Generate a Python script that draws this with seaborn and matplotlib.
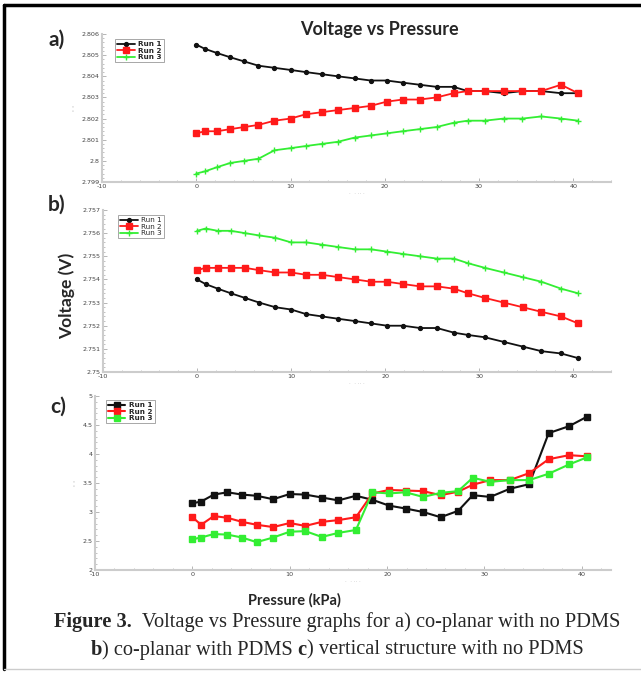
import matplotlib
matplotlib.use("Agg")
import matplotlib.pyplot as plt
import seaborn as sns
from matplotlib.ticker import MultipleLocator, FuncFormatter
from matplotlib.lines import Line2D

# Pressure (kPa) readings, same for every run
pressure = [0, 0.9, 2.2, 3.6, 5.1, 6.6, 8.3, 10.0, 11.6, 13.3, 15.0, 16.8, 18.5,
            20.2, 21.9, 23.7, 25.5, 27.3, 28.8, 30.6, 32.6, 34.6, 36.6, 38.7, 40.5]
run_names = ["Run 1", "Run 2", "Run 3"]

# a) co-planar, no PDMS
a_run1 = [2.8055, 2.8053, 2.8051, 2.8049, 2.8047, 2.8045, 2.8044, 2.8043, 2.8042, 2.8041,
          2.8040, 2.8039, 2.8038, 2.8038, 2.8037, 2.8036, 2.8035, 2.8035, 2.8033, 2.8033,
          2.8032, 2.8033, 2.8033, 2.8032, 2.8032]
a_run2 = [2.8013, 2.8014, 2.8014, 2.8015, 2.8016, 2.8017, 2.8019, 2.8020, 2.8022, 2.8023,
          2.8024, 2.8025, 2.8026, 2.8028, 2.8029, 2.8029, 2.8030, 2.8032, 2.8033, 2.8033,
          2.8033, 2.8033, 2.8033, 2.8036, 2.8032]
a_run3 = [2.7994, 2.7995, 2.7997, 2.7999, 2.8000, 2.8001, 2.8005, 2.8006, 2.8007, 2.8008,
          2.8009, 2.8011, 2.8012, 2.8013, 2.8014, 2.8015, 2.8016, 2.8018, 2.8019, 2.8019,
          2.8020, 2.8020, 2.8021, 2.8020, 2.8019]

# b) co-planar with PDMS
b_run1 = [2.7540, 2.7538, 2.7536, 2.7534, 2.7532, 2.7530, 2.7528, 2.7527, 2.7525, 2.7524,
          2.7523, 2.7522, 2.7521, 2.7520, 2.7520, 2.7519, 2.7519, 2.7517, 2.7516, 2.7515,
          2.7513, 2.7511, 2.7509, 2.7508, 2.7506]
b_run2 = [2.7544, 2.7545, 2.7545, 2.7545, 2.7545, 2.7544, 2.7543, 2.7543, 2.7542, 2.7542,
          2.7541, 2.7540, 2.7539, 2.7539, 2.7538, 2.7537, 2.7537, 2.7536, 2.7534, 2.7532,
          2.7530, 2.7528, 2.7526, 2.7524, 2.7521]
b_run3 = [2.7561, 2.7562, 2.7561, 2.7561, 2.7560, 2.7559, 2.7558, 2.7556, 2.7556, 2.7555,
          2.7554, 2.7553, 2.7553, 2.7552, 2.7551, 2.7550, 2.7549, 2.7549, 2.7547, 2.7545,
          2.7543, 2.7541, 2.7539, 2.7536, 2.7534]

# c) vertical structure, no PDMS
c_run1 = [3.15, 3.18, 3.30, 3.34, 3.30, 3.28, 3.22, 3.31, 3.30, 3.25, 3.20, 3.28, 3.21,
          3.11, 3.06, 3.00, 2.91, 3.02, 3.29, 3.26, 3.40, 3.48, 4.36, 4.48, 4.64]
c_run2 = [2.91, 2.78, 2.93, 2.90, 2.83, 2.78, 2.74, 2.81, 2.76, 2.83, 2.86, 2.91, 3.32,
          3.38, 3.37, 3.36, 3.29, 3.35, 3.47, 3.55, 3.55, 3.67, 3.91, 3.98, 3.96]
c_run3 = [2.53, 2.56, 2.62, 2.61, 2.56, 2.48, 2.56, 2.66, 2.67, 2.57, 2.64, 2.69, 3.34,
          3.32, 3.34, 3.26, 3.33, 3.36, 3.59, 3.52, 3.55, 3.55, 3.66, 3.82, 3.94]

colors = ["#111111", "#ff1a1a", "#33ee33"]

sns.set_theme(style="white")
plt.rcParams['font.family'] = ['DejaVu Sans']

W, H = 641, 675
fig = plt.figure(figsize=(W / 100, H / 100), dpi=100)


def rect(left, top, right, bottom):
    # pixel box -> figure fraction
    return [left / W, 1 - bottom / H, (right - left) / W, (bottom - top) / H]


panels = [
    dict(box=(102, 34, 611, 182), runs=[a_run1, a_run2, a_run3], ylim=(2.799, 2.806),
         ymaj=0.001, ymin=0.0002, xmax=44, lw=1.3,
         markers=[("o", 2.8), ("s", 4.2), ("+", 4.5)], bold=True, leg=(0.026, 0.966)),
    dict(box=(103, 210, 611, 372), runs=[b_run1, b_run2, b_run3], ylim=(2.75, 2.757),
         ymaj=0.001, ymin=0.0002, xmax=44, lw=1.3,
         markers=[("o", 2.8), ("s", 4.2), ("+", 4.5)], bold=False, leg=(0.03, 0.969)),
    dict(box=(95, 396, 611, 570), runs=[c_run1, c_run2, c_run3], ylim=(2, 5),
         ymaj=0.5, ymin=0.1, xmax=43, lw=1.5,
         markers=[("s", 4.4), ("s", 4.4), ("s", 4.4)], bold=True, leg=(0.021, 0.977)),
]

fmt = FuncFormatter(lambda v, pos: f"{round(v, 4):g}")

for p in panels:
    ax = fig.add_axes(rect(*p["box"]))
    for vals, name, col, (m, ms) in zip(p["runs"], run_names, colors, p["markers"]):
        sns.lineplot(x=pressure, y=vals, ax=ax, color=col, marker=m, markersize=ms,
                     markeredgecolor=col, markeredgewidth=1.0, linewidth=p["lw"],
                     label=name, estimator=None, sort=False)
    ax.set_xlim(-10, p["xmax"])
    ax.set_ylim(*p["ylim"])
    ax.xaxis.set_major_locator(MultipleLocator(10))
    ax.xaxis.set_minor_locator(MultipleLocator(2))
    ax.yaxis.set_major_locator(MultipleLocator(p["ymaj"]))
    ax.yaxis.set_minor_locator(MultipleLocator(p["ymin"]))
    ax.xaxis.set_major_formatter(fmt)
    ax.yaxis.set_major_formatter(fmt)
    ax.tick_params(which="major", direction="in", length=3, width=0.6, color="#aaaaaa",
                   labelsize=4.6, labelcolor="#444444", pad=1.5, left=True, bottom=True)
    ax.tick_params(which="minor", direction="in", length=1.5, width=0.5, color="#aaaaaa",
                   left=True, bottom=True)
    for side in ["top", "right"]:
        ax.spines[side].set_visible(False)
    for side in ["left", "bottom"]:
        ax.spines[side].set_color("#cccccc")
        ax.spines[side].set_linewidth(1.5)
    ax.set_xlabel(".  . .. .", fontsize=4, color="#bbbbbb", labelpad=1)
    ax.set_ylabel("' '", fontsize=5, color="#bbbbbb", labelpad=2)
    leg = ax.legend(loc="upper left", bbox_to_anchor=p["leg"], borderaxespad=0,
                    prop={"size": 5.2, "weight": "bold" if p["bold"] else "normal"},
                    frameon=True, fancybox=False, edgecolor="#999999", framealpha=1,
                    handlelength=2.4, borderpad=0.3, labelspacing=0.05, handletextpad=0.5)
    leg.get_frame().set_linewidth(0.6)

sans = ['Lato', 'DejaVu Sans']
fig.text(57 / W, 1 - 40 / H, "a)", fontsize=15, fontweight="bold", family=sans, ha="center", va="center")
fig.text(57 / W, 1 - 205 / H, "b)", fontsize=15, fontweight="bold", family=sans, ha="center", va="center")
fig.text(58 / W, 1 - 407 / H, "c)", fontsize=15, fontweight="bold", family=sans, ha="center", va="center")
fig.text(379 / W, 1 - 30 / H, "Voltage vs Pressure", fontsize=13, fontweight="bold",
         family=sans, ha="center", va="center")
fig.text(67 / W, 1 - 296 / H, "Voltage (V)", fontsize=12.5, fontweight="bold", family=sans,
         rotation=90, ha="center", va="center")
fig.text(294 / W, 1 - 600 / H, "Pressure (kPa)", fontsize=10.5, fontweight="bold",
         family=sans, ha="center", va="center")

# caption with mixed bold / regular pieces
serif = ['Liberation Serif', 'DejaVu Serif']
caption = [
    (622, [("Figure 3.", "bold"), ("  Voltage vs Pressure graphs for a) co-planar with no PDMS", "normal")]),
    (650, [("b", "bold"), (") co-planar with PDMS ", "normal"), ("c", "bold"),
           (") vertical structure with no PDMS", "normal")]),
]
renderer = fig.canvas.get_renderer()
cx = 337
for y, pieces in caption:
    texts = [fig.text(0, 1 - y / H, s, fontsize=14.7, fontweight=w, family=serif, va="center")
             for s, w in pieces]
    widths = [t.get_window_extent(renderer).width for t in texts]
    x = cx - sum(widths) / 2
    for t, w in zip(texts, widths):
        t.set_x(x / W)
        x += w

# outer frame of the figure box
fig.add_artist(Line2D([4 / W, 4 / W], [1 - 5 / H, 1 - 669 / H], color="black", lw=2.5,
                      transform=fig.transFigure))
fig.add_artist(Line2D([4 / W, 1], [1 - 5 / H, 1 - 5 / H], color="black", lw=2.5,
                      transform=fig.transFigure))
fig.add_artist(Line2D([4 / W, 1], [1 - 669 / H, 1 - 669 / H], color="#cccccc", lw=1,
                      transform=fig.transFigure))

fig.savefig("out.png", dpi=100)
